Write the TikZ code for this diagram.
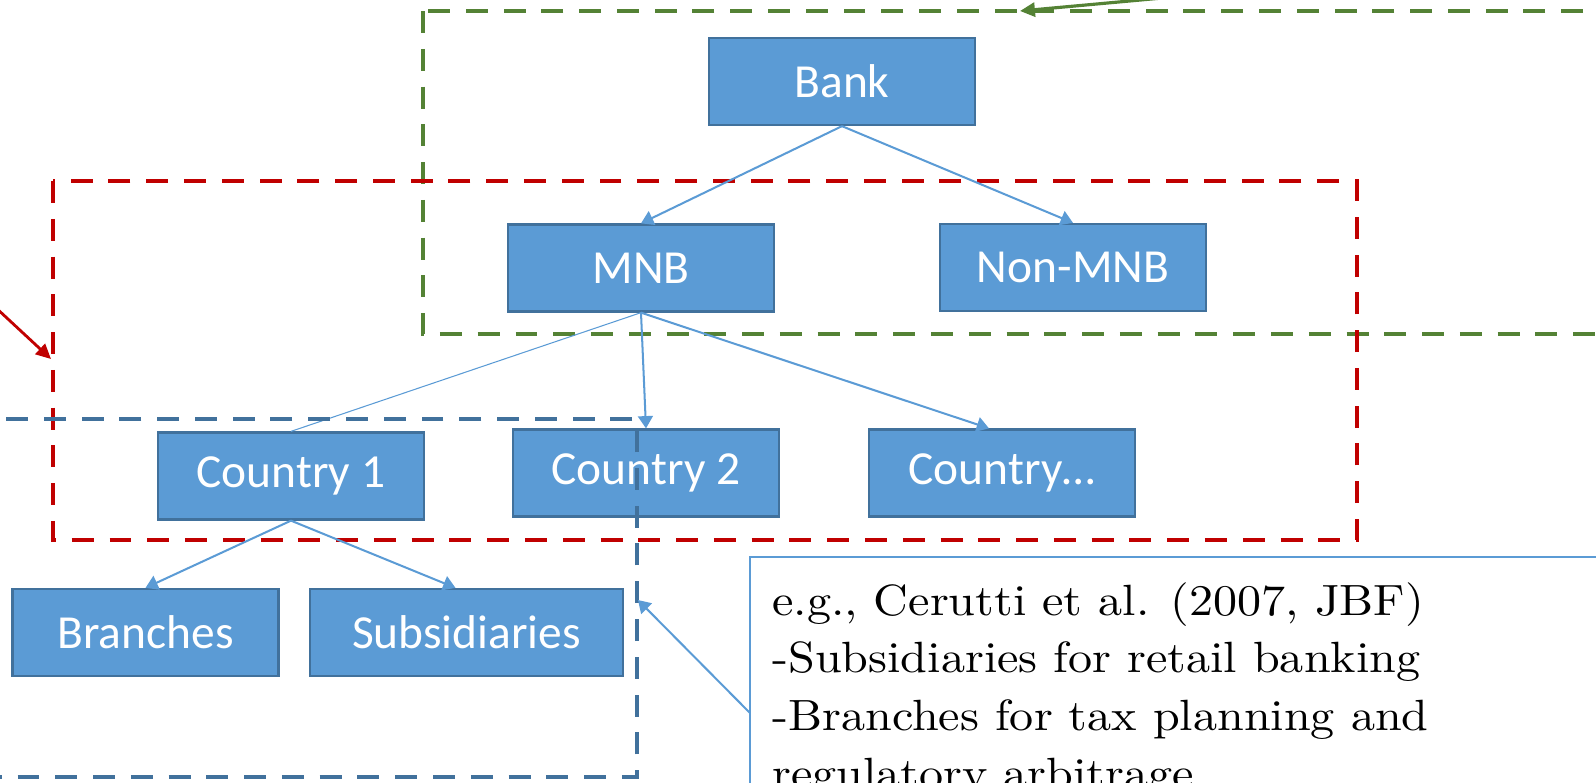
\documentclass[tikz,border=0pt]{standalone}
\usepackage{fontspec}
\newfontfamily\boxfont{Carlito}
\newfontfamily\notefont{lmroman10-regular}[Extension=.otf, FakeStretch=1.1]
\usetikzlibrary{arrows.meta}

\definecolor{boxfill}{HTML}{5B9BD5}
\definecolor{boxline}{HTML}{41719C}
\definecolor{grpgreen}{HTML}{548235}
\definecolor{grpred}{HTML}{C00000}
\definecolor{grpblue}{HTML}{41719C}

\tikzset{
  orgbox/.style={draw=boxline, fill=boxfill, line width=1.3pt,
    minimum width=5.32cm, minimum height=1.74cm, inner sep=0pt,
    text=white, font=\boxfont\fontsize{27}{32}\selectfont},
  link/.style={draw=boxfill, line width=1.15pt,
    -{Triangle[length=7pt,width=8.5pt]}},
  thinlink/.style={draw=boxfill, line width=0.6pt},
  group/.style={line width=2.7pt, dash pattern=on 12.5pt off 9pt},
  pointer/.style={line width=1.8pt, -{Triangle[length=8.5pt,width=8pt]}},
}

\begin{document}
\begin{tikzpicture}[x=0.02cm, y=-0.02cm]
\useasboundingbox (0,0) rectangle (1596,782);
\clip (0,0) rectangle (1596,782);

% grouping frames
\draw[group, grpgreen] (423,11) rectangle (1700,334);
\draw[group, grpred] (53,181) rectangle (1357,540);

% organisation tree
\node[orgbox] (bank) at (842,81.5) {Bank};
\node[orgbox] (mnb) at (641,268) {MNB};
\node[orgbox] (nonmnb) at (1073,267.5) {Non-MNB};
\node[orgbox] (c1) at (291,476) {Country 1};
\node[orgbox] (c2) at (646,473) {Country 2};
\node[orgbox] (c3) at (1002,473) {Country\dots};
\node[orgbox] (branches) at (145.5,632.5) {Branches};
\node[orgbox, minimum width=6.26cm] (subs) at (466.5,632.5) {Subsidiaries};

\draw[link] (bank.south) -- (mnb.north);
\draw[link] (bank.south) -- (nonmnb.north);
\draw[thinlink] (mnb.south) -- (c1.north);
\draw[link] (mnb.south) -- (c2.north);
\draw[link] (mnb.south) -- ([xshift=-0.26cm]c3.north);
\draw[link] (c1.south) -- (branches.north);
\draw[link] (c1.south) -- ([xshift=-0.22cm]subs.north);

% country-level frame, drawn over the tree
\draw[group, grpblue] (-40,419) rectangle (637,777);

% pointers to the frames
\coordinate (greentip) at (1020,11);
\coordinate (greentail) at (1250,-10);
\draw[pointer, grpgreen] (greentail) -- (greentip);
\coordinate (redtip) at (51,359);
\coordinate (redtail) at (-20,293);
\draw[pointer, grpred, line width=1.6pt] (redtail) -- (redtip);

% reference note
\draw[boxfill, line width=1.1pt] (750,557) rectangle (1700,900);
\node[anchor=north west, inner sep=0pt, align=left,
      font=\notefont\fontsize{24.9}{32.9}\selectfont] (note) at (772,582)
  {e.g., Cerutti et al. (2007, JBF)\\
   -Subsidiaries for retail banking\\
   -Branches for tax planning and\\
   regulatory arbitrage};
\coordinate (notearm) at (750,713);
\coordinate (bluetip) at (638,600);
\draw[link] (notearm) -- (bluetip);
\end{tikzpicture}
\end{document}
